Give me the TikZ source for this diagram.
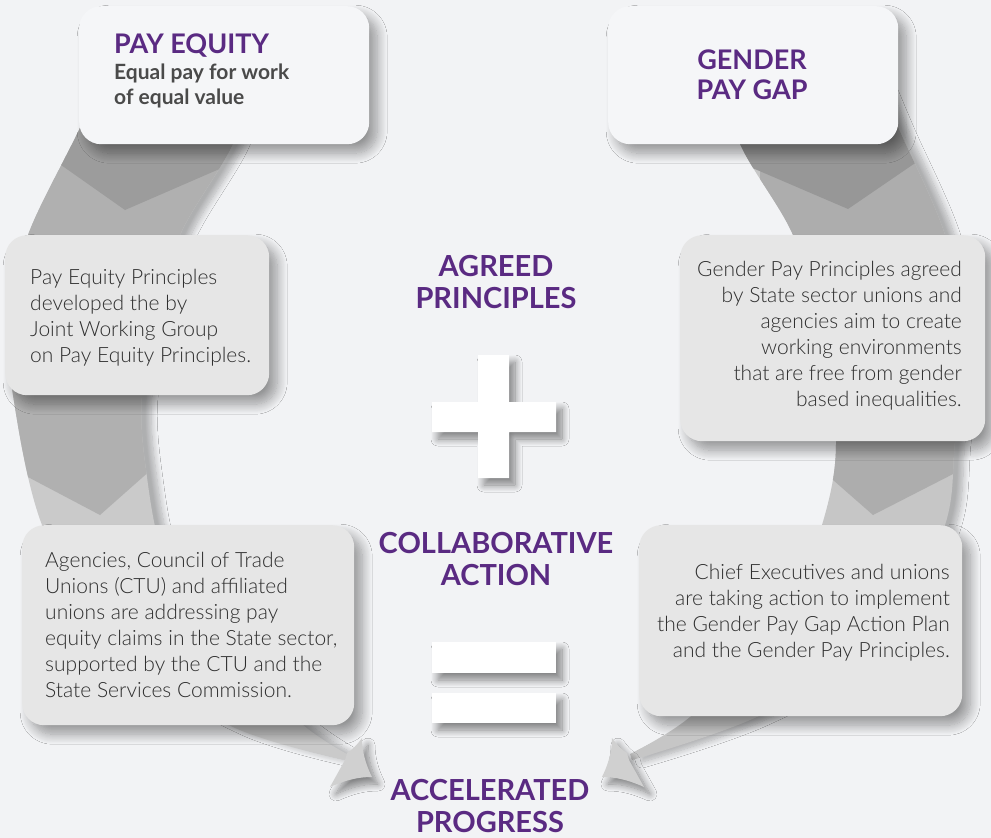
\documentclass[tikz,border=0pt]{standalone}
\usepackage{fontspec}
\setmainfont{Lato}
\newfontfamily\lightfont{Lato Light}
\usetikzlibrary{shadows.blur}
\definecolor{bgc}{HTML}{F2F3F5}
\definecolor{topbox}{HTML}{F5F6F8}
\definecolor{midbox}{HTML}{E6E6E6}
\definecolor{purp}{HTML}{5A2A82}
\definecolor{bodytxt}{HTML}{2E2E2E}
\definecolor{subtxt}{HTML}{4A4A4A}
\definecolor{lone}{HTML}{9C9C9C}
\definecolor{ltwo}{HTML}{B0B0B0}
\definecolor{lthree}{HTML}{CACACA}
\definecolor{rone}{HTML}{979797}
\definecolor{rtwo}{HTML}{ADADAD}
\definecolor{rthree}{HTML}{C6C6C6}
\definecolor{arrowc}{HTML}{D0D0D0}
\tikzset{
  boxshadow/.style={blur shadow={shadow xshift=8pt, shadow yshift=-9pt, shadow blur radius=10pt, shadow opacity=38, shadow blur steps=14}},
  bandshadow/.style={blur shadow={shadow xshift=10pt, shadow yshift=-2pt, shadow blur radius=6pt, shadow opacity=28, shadow blur steps=10}},
  signshadow/.style={blur shadow={shadow xshift=6pt, shadow yshift=-7pt, shadow blur radius=7pt, shadow opacity=45, shadow blur steps=12}},
  topbx/.style={rectangle, rounded corners=22pt, fill=topbox, anchor=north west, inner sep=0pt, boxshadow},
  midbx/.style={rectangle, rounded corners=22pt, fill=midbox, anchor=north west, inner sep=0pt, boxshadow},
  bodytext/.style={font=\lightfont\fontsize{21}{26}\selectfont, text=bodytxt, inner sep=0pt},
  heading/.style={font=\bfseries\fontsize{29}{32}\selectfont, text=purp, inner sep=0pt, anchor=base},
}
\begin{document}
\begin{tikzpicture}[x=1pt,y=-1pt]
\useasboundingbox (0,0) rectangle (991,838);
\fill[bgc] (0,0) rectangle (991,838);

% ---------- left band ----------
\fill[lthree, bandshadow] plot[smooth, tension=0.55] coordinates {(110,60) (79,130) (28,235) (10,320) (13,395) (42,525) (110,650) (233,727) (345,760)}
  -- plot[smooth, tension=0.55] coordinates {(347,754) (303,725) (220,650) (165,560) (146,470) (142,395) (160,315) (180,235) (233,144) (262,60)} -- cycle;
\begin{scope}
\clip plot[smooth, tension=0.55] coordinates {(110,60) (79,130) (28,235) (10,320) (13,395) (42,525) (110,650) (233,727) (345,760)}
  -- plot[smooth, tension=0.55] coordinates {(347,754) (303,725) (220,650) (165,560) (146,470) (142,395) (160,315) (180,235) (233,144) (262,60)} -- cycle;
\fill[ltwo] (-10,0) -- (300,0) -- (300,338) -- (100,515) -- (-10,457) -- cycle;
\fill[lone] (0,0) -- (300,0) -- (300,134) -- (125,210) -- (0,122) -- cycle;
\end{scope}
\fill[arrowc, signshadow] (345,760) -- (330,787) .. controls (348,779) and (360,777) .. (372,777) .. controls (366,765) and (362,752) .. (362,738) .. controls (357,745) and (352,750) .. (347,753) -- cycle;

% ---------- right band ----------
\fill[rthree, bandshadow] plot[smooth, tension=0.55] coordinates {(870,60) (898,127) (945,235) (965,340) (955,441) (945,525) (890,640) (757,717) (632,760)}
  -- plot[smooth, tension=0.55] coordinates {(630,754) (690,717) (780,630) (822,525) (836,441) (820,330) (793,235) (740,144) (715,60)} -- cycle;
\begin{scope}
\clip plot[smooth, tension=0.55] coordinates {(870,60) (898,127) (945,235) (965,340) (955,441) (945,525) (890,640) (757,717) (632,760)}
  -- plot[smooth, tension=0.55] coordinates {(630,754) (690,717) (780,630) (822,525) (836,441) (820,330) (793,235) (740,144) (715,60)} -- cycle;
\fill[rtwo] (760,0) -- (1000,0) -- (1000,450) -- (873,515) -- (760,416) -- cycle;
\fill[rone] (650,0) -- (1000,0) -- (1000,105) -- (848,209) -- (650,124) -- cycle;
\end{scope}
\fill[arrowc, signshadow] (629,760) -- (644,787) .. controls (626,779) and (614,777) .. (602,777) .. controls (608,765) and (612,752) .. (612,738) .. controls (617,745) and (622,750) .. (627,753) -- cycle;

% ---------- boxes ----------
\node[topbx, minimum width=290pt, minimum height=138pt] (b1) at (79,6) {};
\node[topbx, minimum width=290pt, minimum height=138pt] (b2) at (608,6) {};
\node[midbx, minimum width=264pt, minimum height=160pt] (b3) at (5,235) {};
\node[midbx, minimum width=305pt, minimum height=206pt] (b4) at (680,235) {};
\node[midbx, minimum width=332pt, minimum height=200pt] (b5) at (22,525) {};
\node[midbx, minimum width=323pt, minimum height=191pt] (b6) at (639,525) {};

% ---------- box texts ----------
\node[font=\bfseries\fontsize{27}{30}\selectfont, text=purp, inner sep=0pt, anchor=base west] (t1) at (114,53) {PAY EQUITY};
\node[font=\bfseries\fontsize{21}{25}\selectfont, text=subtxt, inner sep=0pt, anchor=base west] (t1b) at (114,79)
  {\begin{tabular}[t]{@{}l@{}}Equal pay for work\\of equal value\end{tabular}};
\node[font=\bfseries\fontsize{27}{30}\selectfont, text=purp, inner sep=0pt, anchor=base] (t2) at (752,69)
  {\begin{tabular}[t]{@{}c@{}}GENDER\\PAY GAP\end{tabular}};
\node[bodytext, anchor=base west] (t3) at (30,284)
  {\begin{tabular}[t]{@{}l@{}}Pay Equity Principles\\developed the by\\Joint Working Group\\on Pay Equity Principles.\end{tabular}};
\node[bodytext, anchor=base east] (t4) at (962,276)
  {\begin{tabular}[t]{@{}r@{}}Gender Pay Principles agreed\\by State sector unions and\\agencies aim to create\\working environments\\that are free from gender\\based inequalities.\end{tabular}};
\node[bodytext, anchor=base west] (t5) at (45,567)
  {\begin{tabular}[t]{@{}l@{}}Agencies, Council of Trade\\Unions (CTU) and affiliated\\unions are addressing pay\\equity claims in the State sector,\\supported by the CTU and the\\State Services Commission.\end{tabular}};
\node[bodytext, anchor=base east] (t6) at (950,579)
  {\begin{tabular}[t]{@{}r@{}}Chief Executives and unions\\are taking action to implement\\the Gender Pay Gap Action Plan\\and the Gender Pay Principles.\end{tabular}};

% ---------- centre ----------
\node[heading] (h1) at (496,276) {\begin{tabular}[t]{@{}c@{}}AGREED\\PRINCIPLES\end{tabular}};
\node[heading] (h2) at (496,553) {\begin{tabular}[t]{@{}c@{}}COLLABORATIVE\\ACTION\end{tabular}};
\node[heading] (h3) at (490,800) {\begin{tabular}[t]{@{}c@{}}ACCELERATED\\PROGRESS\end{tabular}};

\fill[white, signshadow] (478,355) -- (509,355) -- (509,402) -- (556,402) -- (556,432) -- (509,432) -- (509,478) -- (478,478) -- (478,432) -- (432,432) -- (432,402) -- (478,402) -- cycle;
\fill[white, signshadow] (432,642) rectangle (556,673);
\fill[white, signshadow] (432,693) rectangle (556,723);
\end{tikzpicture}
\end{document}
